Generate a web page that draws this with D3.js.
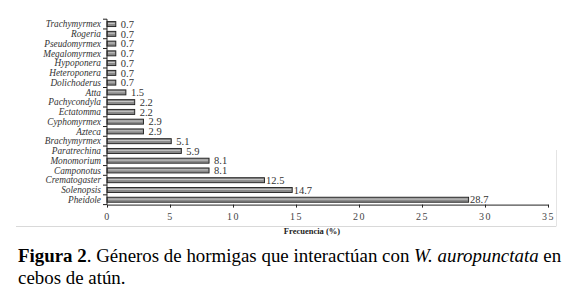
<!DOCTYPE html>
<html><head><meta charset="utf-8">
<script src="https://cdn.jsdelivr.net/npm/d3@7"></script>
</head>
<body style="margin:0">
<svg id="chart" width="580" height="308"></svg>
<script>
const categories = ["Trachymyrmex","Rogeria","Pseudomyrmex","Megalomyrmex","Hypoponera","Heteroponera","Dolichoderus","Atta","Pachycondyla","Ectatomma","Cyphomyrmex","Azteca","Brachymyrmex","Paratrechina","Monomorium","Camponotus","Crematogaster","Solenopsis","Pheidole"];
const values = [0.7,0.7,0.7,0.7,0.7,0.7,0.7,1.5,2.2,2.2,2.9,2.9,5.1,5.9,8.1,8.1,12.5,14.7,28.7];
const valueLabels = ["0.7","0.7","0.7","0.7","0.7","0.7","0.7","1.5","2.2","2.2","2.9","2.9","5.1","5.9","8.1","8.1","12.5","14.7","28.7"];
const xTicks = [0,5,10,15,20,25,30,35];
const xTitle = "Frecuencia (%)";

const SERIF = "Liberation Serif";
const svg = d3.select("#chart");

const x = d3.scaleLinear().domain([0,35]).range([107,548]);
const y = d3.scaleBand().domain(categories).range([19.2,204.6]).paddingInner(0).paddingOuter(0);

// faint frame
svg.append("line").attr("x1",16).attr("x2",556).attr("y1",226.5).attr("y2",226.5).attr("stroke","#d9d9d9");
svg.append("line").attr("x1",556.5).attr("x2",556.5).attr("y1",150).attr("y2",226.5).attr("stroke","#e4e4e4");

// bars
const bh = 5;
const g = svg.append("g");
const data = categories.map((c,i)=>({c, v:values[i], l:valueLabels[i]}));
g.selectAll("rect.bar").data(data).join("rect").attr("class","bar")
  .attr("x", x(0))
  .attr("y", d => y(d.c) + y.bandwidth()/2 - bh/2)
  .attr("width", d => x(d.v) - x(0))
  .attr("height", bh)
  .attr("fill","#8a8a8a").attr("stroke","#1e1e1e").attr("stroke-width",0.9);
g.selectAll("line.hl").data(data).join("line").attr("class","hl")
  .attr("x1", x(0)+1).attr("x2", d => x(d.v)-1)
  .attr("y1", d => y(d.c) + y.bandwidth()/2 - 0.6)
  .attr("y2", d => y(d.c) + y.bandwidth()/2 - 0.6)
  .attr("stroke","#c8c8c8");

// value labels
g.selectAll("text.val").data(data).join("text").attr("class","val")
  .style("font-family",SERIF).style("font-size","10.5px")
  .attr("x", d => x(d.v) + (d.v>10?1.5:5))
  .attr("y", d => y(d.c) + y.bandwidth()/2).attr("dy","0.35em").attr("fill","#333")
  .text(d => d.l);

// y axis
const yAxis = svg.append("g").attr("transform",`translate(${x(0)},0)`);
yAxis.append("line").attr("y1",y.range()[0]).attr("y2",y.range()[1]).attr("stroke","#222");
const bounds = categories.map(c=>y(c)).concat([y.range()[1]]);
yAxis.selectAll("line.yt").data(bounds).join("line").attr("class","yt")
  .attr("x1",-4).attr("x2",0).attr("y1",d=>d).attr("y2",d=>d).attr("stroke","#222");
yAxis.selectAll("text").data(categories).join("text")
  .style("font-family",SERIF).style("font-style","italic").style("font-size","9.3px")
  .attr("x",-6).attr("y",d=>y(d)+y.bandwidth()/2).attr("dy","0.35em")
  .attr("text-anchor","end").attr("fill","#333")
  .text(d=>d);

// x axis
const xAxis = svg.append("g").attr("transform",`translate(0,${y.range()[1]})`)
  .call(d3.axisBottom(x).tickValues(xTicks).tickSize(3).tickSizeOuter(0).tickFormat(d3.format("d")));
xAxis.attr("font-family",null);
xAxis.select(".domain").attr("stroke","#222");
xAxis.selectAll(".tick line").attr("stroke","#222");
xAxis.selectAll(".tick text").style("font-family",SERIF).style("font-size","10px").attr("fill","#444")
  .style("letter-spacing","1.5px").attr("dy","0.95em");

svg.append("text")
  .style("font-family",SERIF).style("font-weight","bold").style("font-size","8.5px")
  .attr("x",312).attr("y",234).attr("text-anchor","middle").attr("fill","#222")
  .text(xTitle);

// caption
const fs = 18.9;
const cap = svg.append("text").style("font-family",SERIF).style("font-size",fs+"px")
  .attr("x",18).attr("y",262).attr("fill","#000");
cap.append("tspan").style("font-weight","bold").text("Figura 2");
cap.append("tspan").text(". Géneros de hormigas que interactúan con ");
cap.append("tspan").style("font-style","italic").text("W. auropunctata");
cap.append("tspan").text(" en");
svg.append("text").style("font-family",SERIF).style("font-size",fs+"px")
  .attr("x",18).attr("y",284).attr("fill","#000").text("cebos de atún.");
</script>
</body></html>
